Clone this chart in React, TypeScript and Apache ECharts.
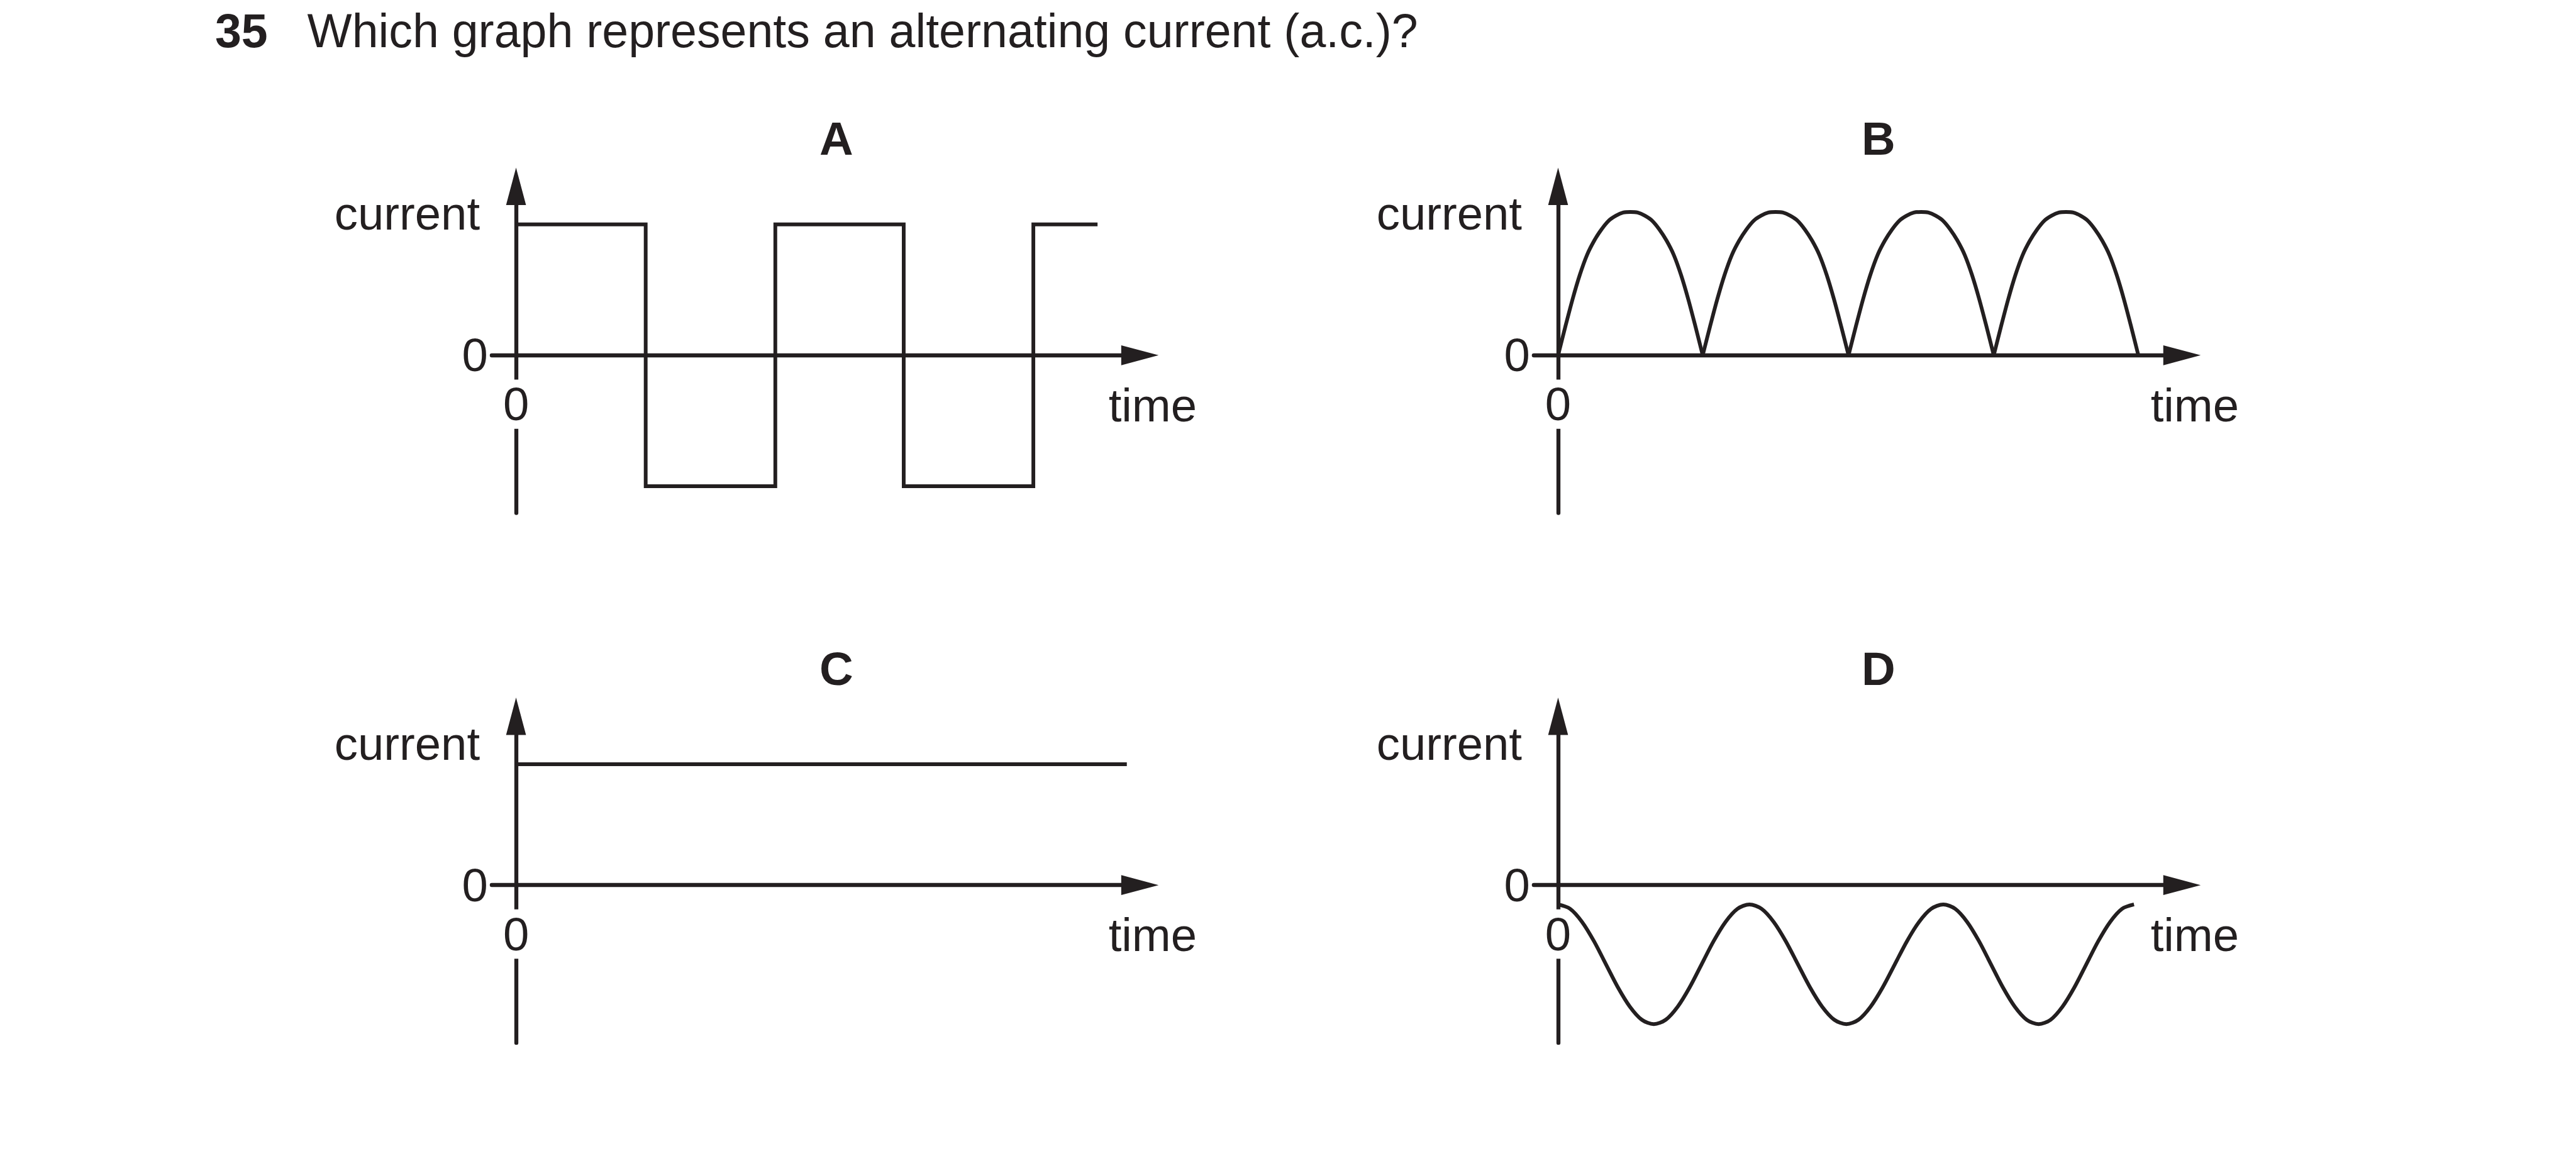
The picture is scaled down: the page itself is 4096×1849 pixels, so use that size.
import React, { useEffect, useRef } from 'react';
import * as echarts from 'echarts';

// ---------- page / style ----------
const S = 0.991;
const W = 4096;
const H = 1849;
const FONT = '"Liberation Sans", Arial, Helvetica, sans-serif';
const INK = '#231f20';

// ---------- texts ----------
const questionNumber = '35';
const questionText = 'Which graph represents an alternating current (a.c.)?';
const panelLetters = ['A', 'B', 'C', 'D'];
const yAxisWord = 'current';
const xAxisWord = 'time';
const zeroLabel = '0';

// ---------- axes (time units, current units) ----------
const timeMin = -0.39;
const timeMax = 10.01;
const currentMin = -2.53;
const currentMax = 2.71;
const yLabelValues = [0, 2.27]; // "0" and "current"
const xLabelValues = [0];

// ---------- A: square wave ----------
const aSwitchTimes = [0, 2.08, 4.16, 6.22, 8.3, 9.33];
const aLevels = [2.1, -2.1, 2.1, -2.1, 2.1];

// ---------- B: rectified arches ----------
const bArchZeros = [0, 2.32, 4.66, 6.99, 9.31];
const bArchPhase = [0, 0.05, 0.1, 0.15, 0.2, 0.25, 0.3, 0.35, 0.4, 0.45, 0.5, 0.55, 0.6, 0.65, 0.7, 0.75, 0.8, 0.85, 0.9, 0.95, 1];
const bArchCurrent = [0, 0.46, 0.9, 1.29, 1.61, 1.84, 2.02, 2.16, 2.24, 2.29, 2.3, 2.29, 2.24, 2.16, 2.02, 1.84, 1.61, 1.29, 0.9, 0.46, 0];

// ---------- C: steady current ----------
const cTimes = [0, 9.8];
const cCurrent = [1.94, 1.94];

// ---------- D: wave below zero (one cycle shape, peak to peak) ----------
const dCyclePeaks = [0, 3.07, 6.18, 9.24];
const dCyclePhase = [0, 0.0625, 0.125, 0.1875, 0.25, 0.3125, 0.375, 0.4375, 0.5, 0.5625, 0.625, 0.6875, 0.75, 0.8125, 0.875, 0.9375, 1];
const dCycleCurrent = [-0.31, -0.38, -0.59, -0.9, -1.27, -1.64, -1.95, -2.16, -2.23, -2.16, -1.95, -1.64, -1.27, -0.9, -0.59, -0.38, -0.31];

// ---------- layout (reference pixels, scaled by S) ----------
// origin of each panel = where the two axes cross
const origins: [number, number][] = [
  [828, 570],
  [2500, 570],
  [828, 1420],
  [2500, 1420],
];
const STUB_LEFT = 39; // x axis starts this far left of the y axis
const AXIS_TOP = 271; // y axis line top above the x axis
const AXIS_BOTTOM = 253; // y axis line bottom below the x axis
const AXIS_LEN = 1040; // x axis line length

const zip = (xs: number[], ys: number[]) => xs.map((x, i) => [x, ys[i]]);

function buildOption() {
  const grids: any[] = [];
  const xAxes: any[] = [];
  const yAxes: any[] = [];
  const series: any[] = [];
  const graphics: any[] = [];

  const lineStyle = { color: INK, width: 6 * S, cap: 'butt', join: 'miter' };
  const baseSeries = {
    type: 'line',
    symbol: 'none',
    showSymbol: false,
    silent: true,
    animation: false,
    lineStyle,
    emphasis: { disabled: true },
  };

  origins.forEach(([ox, oy], i) => {
    grids.push({
      left: (ox - STUB_LEFT) * S,
      top: (oy - AXIS_TOP) * S,
      width: AXIS_LEN * S,
      height: (AXIS_TOP + AXIS_BOTTOM) * S,
      containLabel: false,
      outerBoundsMode: 'none',
    });
    xAxes.push({
      type: 'value',
      gridIndex: i,
      position: 'bottom',
      offset: -AXIS_BOTTOM * S,
      min: timeMin,
      max: timeMax,
      z: 1,
      axisLine: {
        show: true,
        onZero: false,
        symbol: ['none', 'triangle'],
        symbolSize: [32 * S, 60 * S],
        lineStyle: { color: INK, width: 6.4 * S },
      },
      axisTick: { show: false },
      splitLine: { show: false },
      axisLabel: {
        show: true,
        customValues: xLabelValues,
        formatter: () => zeroLabel,
        margin: 39 * S,
        color: INK,
        fontFamily: FONT,
        fontSize: 75 * S,
        lineHeight: 79 * S,
        backgroundColor: '#ffffff',
        padding: [0, 6 * S],
      },
    });
    yAxes.push({
      type: 'value',
      gridIndex: i,
      position: 'left',
      offset: -STUB_LEFT * S,
      min: currentMin,
      max: currentMax,
      z: 0,
      axisLine: {
        show: true,
        onZero: false,
        symbol: ['none', 'triangle'],
        symbolSize: [32 * S, 60 * S],
        lineStyle: { color: INK, width: 6.4 * S },
      },
      axisTick: { show: false },
      splitLine: { show: false },
      axisLabel: {
        show: true,
        customValues: yLabelValues,
        formatter: (v: number) => (v === 0 ? zeroLabel : `{c|${yAxisWord}}`),
        margin: 45 * S,
        color: INK,
        fontFamily: FONT,
        fontSize: 75 * S,
        rich: {
          c: {
            color: INK,
            fontFamily: FONT,
            fontSize: 75 * S,
            padding: [0, 13 * S, 0, 0],
          },
        },
      },
    });

    // panel letter
    graphics.push({
      type: 'text',
      silent: true,
      x: (ox + 514) * S,
      y: (oy - 347) * S,
      style: {
        text: panelLetters[i],
        fill: INK,
        font: `bold ${75 * S}px ${FONT}`,
        textAlign: 'center',
        textVerticalAlign: 'middle',
      },
    });
    // "time"
    graphics.push({
      type: 'text',
      silent: true,
      x: (ox + 950.7) * S,
      y: (oy + 80) * S,
      style: {
        text: xAxisWord,
        fill: INK,
        font: `${75 * S}px ${FONT}`,
        textAlign: 'left',
        textVerticalAlign: 'middle',
      },
    });
  });

  // A: square wave corners from the switching times and levels
  const aPoints: number[][] = [];
  aLevels.forEach((lv, k) => {
    aPoints.push([aSwitchTimes[k], lv], [aSwitchTimes[k + 1], lv]);
  });
  series.push({ ...baseSeries, xAxisIndex: 0, yAxisIndex: 0, data: aPoints });

  // B: one line per arch (sharp cusps at the zeros)
  for (let k = 0; k < bArchZeros.length - 1; k++) {
    const t0 = bArchZeros[k];
    const t1 = bArchZeros[k + 1];
    const ts = bArchPhase.map((p) => t0 + p * (t1 - t0));
    series.push({
      ...baseSeries,
      xAxisIndex: 1,
      yAxisIndex: 1,
      smooth: 0.3,
      data: zip(ts, bArchCurrent),
    });
  }

  // C
  series.push({ ...baseSeries, xAxisIndex: 2, yAxisIndex: 2, data: zip(cTimes, cCurrent) });

  // D: continuous wave built from its cycles
  const dPoints: number[][] = [];
  for (let k = 0; k < dCyclePeaks.length - 1; k++) {
    const t0 = dCyclePeaks[k];
    const t1 = dCyclePeaks[k + 1];
    dCyclePhase.forEach((p, j) => {
      if (k > 0 && j === 0) return;
      dPoints.push([t0 + p * (t1 - t0), dCycleCurrent[j]]);
    });
  }
  series.push({
    ...baseSeries,
    xAxisIndex: 3,
    yAxisIndex: 3,
    smooth: 0.3,
    data: dPoints,
  });

  // header
  graphics.push({
    type: 'text',
    silent: true,
    x: 345 * S,
    y: (76 - 26.3) * S,
    style: {
      text: questionNumber,
      fill: INK,
      font: `bold ${76 * S}px ${FONT}`,
      textAlign: 'left',
      textVerticalAlign: 'middle',
    },
  });
  graphics.push({
    type: 'text',
    silent: true,
    x: 493 * S,
    y: (76 - 26.3) * S,
    style: {
      text: questionText,
      fill: INK,
      font: `${76 * S}px ${FONT}`,
      textAlign: 'left',
      textVerticalAlign: 'middle',
    },
  });

  return {
    animation: false,
    backgroundColor: '#ffffff',
    textStyle: { fontFamily: FONT, color: INK },
    grid: grids,
    xAxis: xAxes,
    yAxis: yAxes,
    series,
    graphic: { elements: graphics },
  };
}

export default function App() {
  const ref = useRef<HTMLDivElement>(null);
  useEffect(() => {
    document.body.style.margin = '0';
    const chart = echarts.init(ref.current as HTMLDivElement, null, {
      renderer: 'svg',
      width: W,
      height: H,
    });
    chart.setOption(buildOption() as any);
    return () => {
      chart.dispose();
    };
  }, []);
  return (
    <div
      ref={ref}
      style={{ position: 'absolute', left: 0, top: 0, width: W, height: H, background: '#fff' }}
    />
  );
}
